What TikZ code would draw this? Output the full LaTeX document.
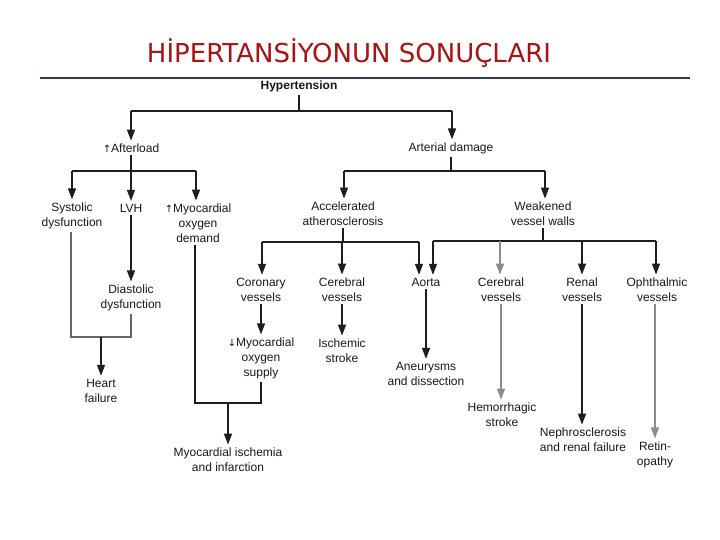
\documentclass[tikz,border=0pt]{standalone}
\usepackage{fontspec}
\setmainfont{Liberation Sans}
\newfontfamily\titlefont{DejaVu Sans}
\newfontfamily\arrfont{DejaVu Sans}
\usetikzlibrary{arrows.meta}
\definecolor{titlered}{RGB}{170,18,20}
\definecolor{rulenavy}{RGB}{45,55,95}
\definecolor{lndark}{RGB}{30,30,30}
\definecolor{lnlight}{RGB}{140,140,140}
\newcommand{\upar}{{\arrfont\fontsize{10}{15}\selectfont ↑}}
\newcommand{\dnar}{{\arrfont\fontsize{10}{15}\selectfont ↓}}
\begin{document}
\begin{tikzpicture}[x=1pt,y=-1pt,
  lbl/.style={font=\fontsize{12}{15}\selectfont, align=center, inner sep=0pt, outer sep=3pt, text=black!90},
  bold/.style={lbl, font=\bfseries\fontsize{12}{15}\selectfont},
  con/.style={draw=lndark, line width=1.4pt},
  conlight/.style={draw=lnlight, line width=1.4pt},
  arr/.style={con, -{Triangle[length=11pt,width=8pt]}},
  arrlight/.style={conlight, -{Triangle[length=11pt,width=8pt]}}]
\fill[white] (0,0) rectangle (720,540);
\useasboundingbox (0,0) rectangle (720,540);

% title and rule
\node[font=\titlefont\fontsize{26}{30}\selectfont, text=titlered, inner sep=0pt] (title) at (349,53) {HİPERTANSİYONUN SONUÇLARI};
\coordinate (ruleL) at (40,78);
\coordinate (ruleR) at (690,78);
\draw[rulenavy, line width=1.5pt] (ruleL) -- (ruleR);

% nodes
\node[bold] (hyp) at (299,86) {Hypertension};
\node[lbl] (aft) at (131,148) {\upar Afterload};
\node[lbl] (art) at (451,148) {Arterial damage};
\node[lbl] (sys) at (72,215.5) {Systolic\\dysfunction};
\node[lbl] (lvh) at (131,208) {LVH};
\node[lbl] (mod) at (198,223) {\upar Myocardial\\oxygen\\demand};
\node[lbl] (dia) at (131,297.5) {Diastolic\\dysfunction};
\node[lbl] (hf) at (101,390.5) {Heart\\failure};
\node[lbl] (acc) at (343,213.5) {Accelerated\\atherosclerosis};
\node[lbl] (weak) at (543,213.5) {Weakened\\vessel walls};
\node[lbl] (cor) at (261,289.5) {Coronary\\vessels};
\node[lbl] (cer1) at (342,289.5) {Cerebral\\vessels};
\node[lbl] (aor) at (426,282) {Aorta};
\node[lbl] (cer2) at (501,289.5) {Cerebral\\vessels};
\node[lbl] (ren) at (582,289.5) {Renal\\vessels};
\node[lbl] (oph) at (657,289.5) {Ophthalmic\\vessels};
\node[lbl] (mos) at (261,358) {\dnar Myocardial\\oxygen\\supply};
\node[lbl] (isc) at (342,350.5) {Ischemic\\stroke};
\node[lbl] (ane) at (426,373.5) {Aneurysms\\and dissection};
\node[lbl] (hem) at (502,414.5) {Hemorrhagic\\stroke};
\node[lbl] (nep) at (583,439.5) {Nephrosclerosis\\and renal failure};
\node[lbl] (ret) at (655,454.5) {Retin-\\opathy};
\node[lbl] (mi) at (228,459.5) {Myocardial ischemia\\and infarction};

% Hypertension split
\coordinate (b1) at (299,111);
\coordinate (b1l) at (131,111);
\coordinate (b1r) at (452,111);
\draw[con] (hyp.south) -- (b1);
\draw[con] (b1l) -- (b1r);
\draw[arr] (b1l) -- (b1l |- aft.north);
\draw[arr] (b1r) -- (b1r |- art.north);

% Afterload split
\coordinate (b2) at (131,171);
\coordinate (b2l) at (72,171);
\coordinate (b2r) at (196,171);
\draw[con] (aft.south) -- (b2);
\draw[con] (b2l) -- (b2r);
\draw[arr] (b2l) -- (b2l |- sys.north);
\draw[arr] (b2) -- (lvh.north);
\draw[arr] (b2r) -- (b2r |- mod.north);

% LVH to diastolic
\draw[arr] (lvh.south) -- (dia.north);

% systolic + diastolic to heart failure
\coordinate (j1) at (71,337);
\coordinate (j2) at (131,337);
\coordinate (j3) at (101,337);
\draw[conlight, draw=black!60] (j1 |- sys.south) -- (j1) -- (j2) -- (dia.south);
\draw[arr] (j3) -- (j3 |- hf.north);

% demand + supply to ischemia
\coordinate (j4) at (195,403);
\coordinate (j5) at (261,403);
\coordinate (j6) at (228,403);
\draw[con] (j4 |- mod.south) -- (j4) -- (j5) -- (mos.south);
\draw[arr] (j6) -- (j6 |- mi.north);

% Arterial damage split
\coordinate (b3) at (451,171);
\coordinate (b3l) at (344,171);
\coordinate (b3r) at (545,171);
\draw[con] (art.south) -- (b3);
\draw[con] (b3l) -- (b3r);
\draw[arr] (b3l) -- (b3l |- acc.north);
\draw[arr] (b3r) -- (b3r |- weak.north);

% Accelerated atherosclerosis split
\coordinate (b4) at (343,242);
\coordinate (b4l) at (262,242);
\coordinate (b4m) at (342,242);
\coordinate (b4r) at (419,242);
\draw[con] (acc.south) -- (b4);
\draw[con] (b4l) -- (b4r);
\draw[arr] (b4l) -- (b4l |- cor.north);
\draw[arr] (b4m) -- (b4m |- cer1.north);
\draw[arr] (b4r) -- (b4r |- aor.north);

% Weakened vessel walls split
\coordinate (b5) at (543,241);
\coordinate (b5a) at (433,241);
\coordinate (b5b) at (500,241);
\coordinate (b5c) at (582,241);
\coordinate (b5d) at (656,241);
\draw[con] (weak.south) -- (b5);
\draw[con] (b5a) -- (b5d);
\draw[arr] (b5a) -- (b5a |- aor.north);
\draw[arrlight] (b5b) -- (b5b |- cer2.north);
\draw[arr] (b5c) -- (b5c |- ren.north);
\draw[arr] (b5d) -- (b5d |- oph.north);

% lower level
\draw[arr] (cor.south) -- (mos.north);
\draw[arr] (cer1.south) -- (isc.north);
\draw[arr] (aor.south) -- (ane.north);
\draw[arrlight] (cer2.south) -- (cer2.south |- hem.north);
\draw[arr] (ren.south) -- (ren.south |- nep.north);
\draw[arrlight] (ret.north |- oph.south) -- (ret.north);
\end{tikzpicture}
\end{document}
